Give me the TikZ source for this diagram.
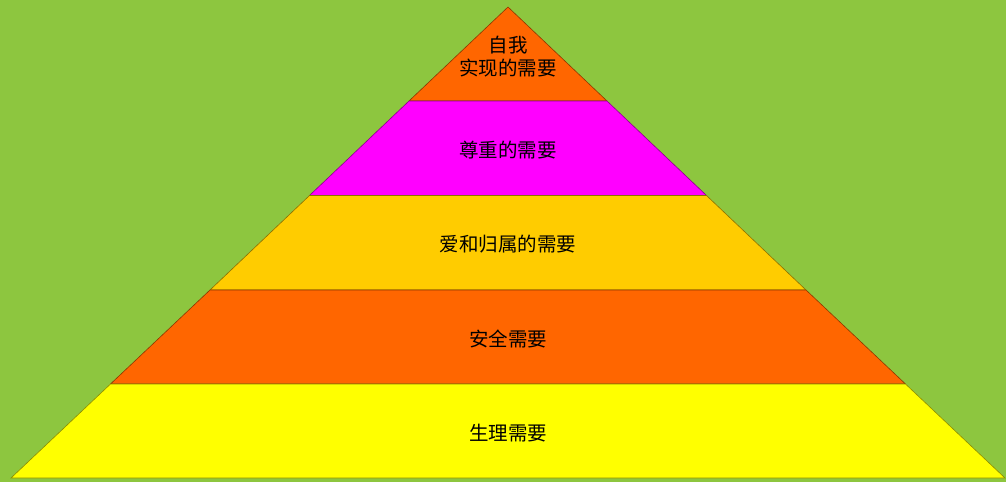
\documentclass[tikz,border=0pt]{standalone}
\usepackage{fontspec}
\newfontfamily\cjk{Noto Sans CJK SC}
\definecolor{bggreen}{RGB}{141,198,63}
\definecolor{toporange}{RGB}{255,102,0}
\definecolor{esteem}{RGB}{255,0,255}
\definecolor{belong}{RGB}{255,204,0}
\definecolor{safety}{RGB}{255,102,0}
\definecolor{physio}{RGB}{255,255,0}
\begin{document}
\begin{tikzpicture}[x=1pt, y=-1pt,
layer/.style={draw=#1!55!black, fill=#1, line width=0.6pt},
labelnode/.style={font=\cjk\fontsize{19.5}{23}\selectfont, align=center, text=black},
]
%Background
\fill[bggreen] (0,0) rectangle (1006,482);

%Layers
\draw[layer=toporange] (508,7) -- (607,101) -- (409,101) -- cycle;
\draw[layer=esteem] (409,101) -- (607,101) -- (706.5,195.5) -- (309.5,195.5) -- cycle;
\draw[layer=belong] (309.5,195.5) -- (706.5,195.5) -- (806,290) -- (210,290) -- cycle;
\draw[layer=safety] (210,290) -- (806,290) -- (905.5,384) -- (110.5,384) -- cycle;
\draw[layer=physio] (110.5,384) -- (905.5,384) -- (1005,478) -- (11,478) -- cycle;

%Nodes
\node[labelnode] (selfactual) at (508,57) {自我\\实现的需要};
\node[labelnode] (esteemlabel) at (508,150) {尊重的需要};
\node[labelnode] (belonglabel) at (508,244) {爱和归属的需要};
\node[labelnode] (safetylabel) at (508,339) {安全需要};
\node[labelnode] (physiolabel) at (508,433) {生理需要};

\end{tikzpicture}
\end{document}
